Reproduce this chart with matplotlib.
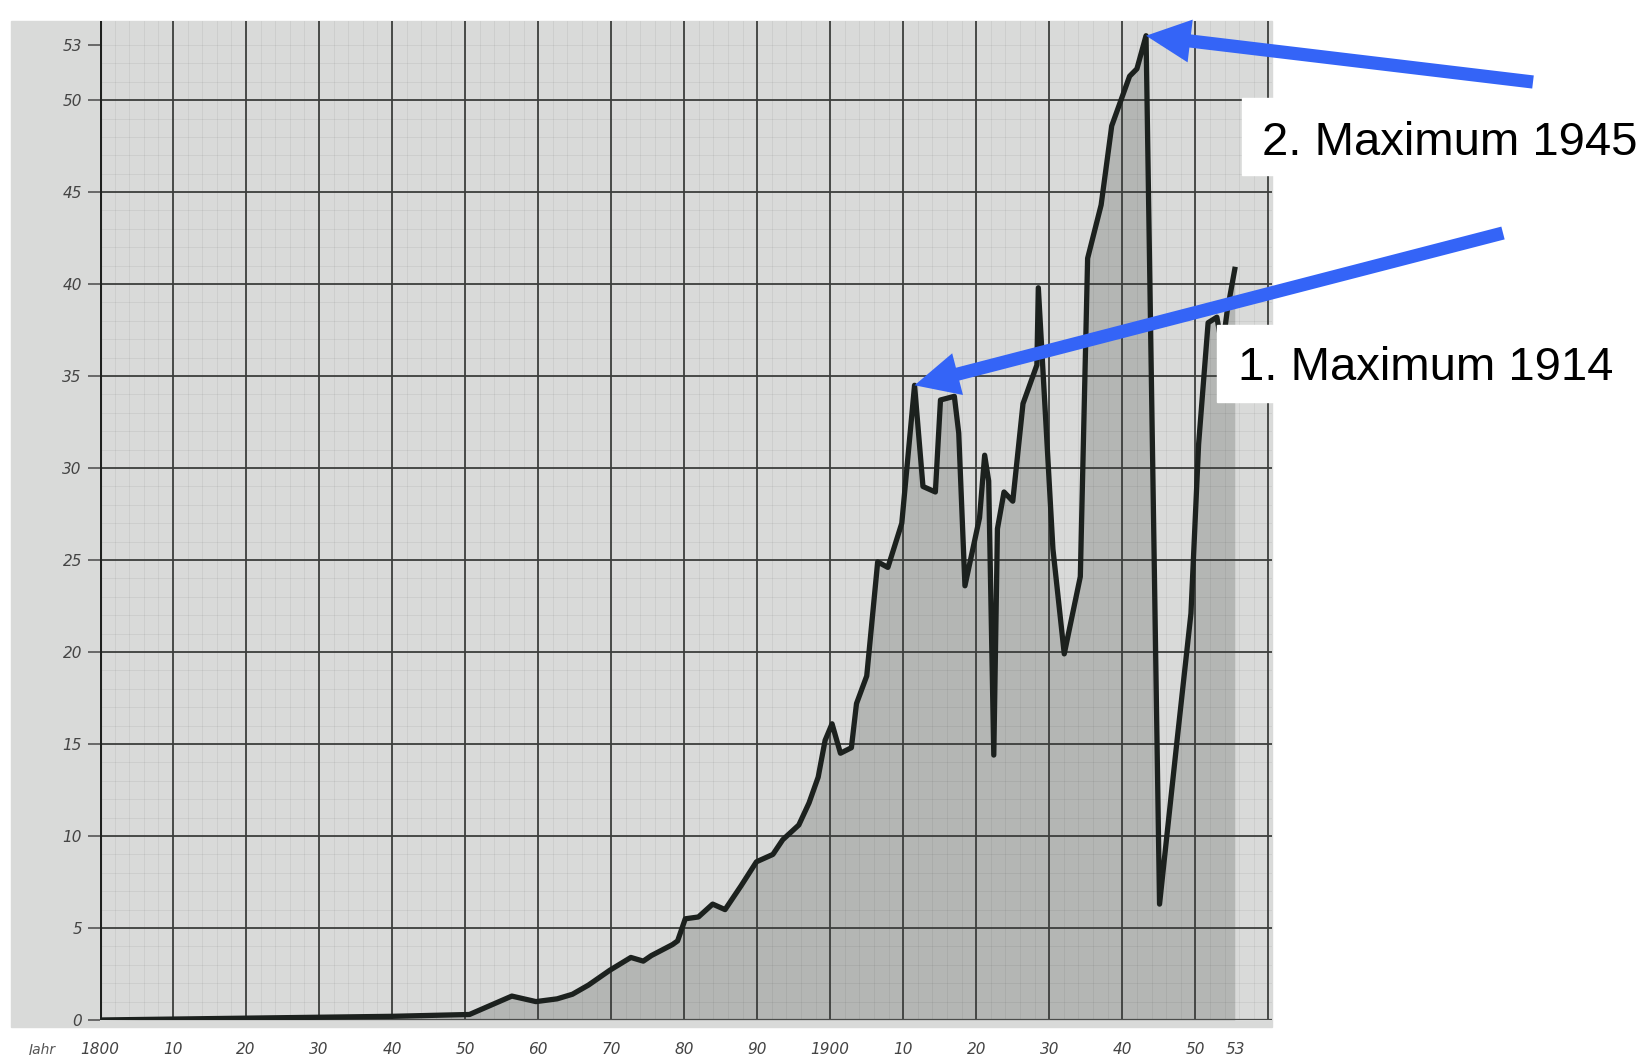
import numpy as np
import matplotlib.pyplot as plt
from matplotlib.patches import Rectangle

# values (year, level)
years = [1800, 1810, 1820, 1830, 1840, 1850.6, 1856.4, 1859.7, 1862.6, 1864.7,
         1866.9, 1869.8, 1872.7, 1874.4, 1875.5, 1878.4, 1879.1, 1880.15, 1881.95, 1883.9,
         1885.6, 1887.8, 1889.9, 1892.15, 1893.5, 1895.7, 1897.1, 1898.35, 1899.3, 1900.25,
         1901.4, 1902.9, 1903.6, 1905.0, 1906.5, 1907.9, 1909.8, 1911.55, 1912.7, 1914.4,
         1915.1, 1917.0, 1917.6, 1918.45, 1920.45, 1921.15, 1921.7, 1922.4, 1922.9, 1923.8,
         1925.0, 1926.4, 1928.3, 1928.5, 1930.5, 1932.05, 1934.25, 1935.25, 1937.1, 1938.55,
         1941.0, 1942.0, 1943.25, 1945.1, 1947.5, 1949.4, 1950.45, 1951.75, 1952.95, 1953.7,
         1954.35, 1955.4]
values = [0.0, 0.05, 0.1, 0.15, 0.2, 0.3, 1.3, 1.0, 1.15, 1.4,
          1.9, 2.7, 3.4, 3.2, 3.5, 4.1, 4.3, 5.5, 5.6, 6.3,
          6.0, 7.3, 8.6, 9.0, 9.8, 10.6, 11.8, 13.2, 15.2, 16.1,
          14.5, 14.8, 17.2, 18.7, 24.9, 24.6, 27.0, 34.5, 29.0, 28.7,
          33.7, 33.9, 31.9, 23.6, 27.3, 30.7, 29.3, 14.4, 26.7, 28.7,
          28.2, 33.5, 35.6, 39.8, 25.6, 19.9, 24.1, 41.4, 44.3, 48.6,
          51.3, 51.7, 53.5, 6.3, 15.2, 22.1, 31.3, 37.9, 38.2, 36.5,
          38.5, 40.8]

y_ticks = [0, 5, 10, 15, 20, 25, 30, 35, 40, 45, 50, 53]
x_ticks = [1800, 1810, 1820, 1830, 1840, 1850, 1860, 1870, 1880, 1890,
           1900, 1910, 1920, 1930, 1940, 1950, 1955.5]
x_labels = ['1800', '10', '20', '30', '40', '50', '60', '70', '80', '90',
            '1900', '10', '20', '30', '40', '50', '53']

W, H = 1649, 1055
fig = plt.figure(figsize=(W / 100, H / 100), dpi=100)

# grey graph paper
fig.patches.append(Rectangle((11 / W, 1 - 1027 / H), 1261 / W, 1006 / H,
                             transform=fig.transFigure, color='#d9dad9', zorder=-1))

ax = fig.add_axes([100 / W, 1 - 1020 / H, 1172 / W, 999 / H])
ax.set_facecolor('none')
ax.set_xlim(1800, 1960.5)
ax.set_ylim(0, 54.3)

ax.fill_between(years, values, 0, color='#b4b6b4', lw=0, zorder=1)

# fine paper grid
for y in range(1, 54):
    ax.axhline(y, color='black', alpha=0.05, lw=0.7, zorder=1.5)
for x in range(1802, 1960, 2):
    ax.axvline(x, color='black', alpha=0.05, lw=0.7, zorder=1.5)
# main grid
for y in range(5, 51, 5):
    ax.axhline(y, color='#3c3e3c', lw=1.3, zorder=2)
for x in range(1810, 1961, 10):
    ax.axvline(x, color='#3c3e3c', lw=1.3, zorder=2)
ax.axvline(1800, color='#1e201e', lw=2.2, zorder=2)
ax.axhline(0, color='#4a4c4a', lw=1.6, zorder=2)

ax.plot(years, values, color='#1c211e', lw=3.8, zorder=4)

for s in ax.spines.values():
    s.set_visible(False)
ax.set_yticks(y_ticks)
ax.set_yticklabels([str(v) for v in y_ticks], fontsize=11, style='italic', color='#444444')
ax.tick_params(axis='y', length=9, width=1.2, color='#555555', pad=4)
ax.set_xticks(x_ticks)
ax.set_xticklabels(x_labels, fontsize=11, style='italic', color='#444444')
ax.tick_params(axis='x', length=0, pad=16)
fig.text(42 / W, 1 - 1050 / H, 'Jahr', fontsize=10, style='italic', color='#555555',
         ha='center', va='center')

# blue arrows to the two maxima
arrow_kw = dict(arrowstyle='simple,head_length=3.2,head_width=3.1,tail_width=0.95',
                color='#3464f7', lw=0, shrinkA=0, shrinkB=0, mutation_scale=10)
ax.annotate('', xy=(1943.25, 53.5), xytext=(1533 / W, 1 - 82 / H),
            textcoords='figure fraction', arrowprops=arrow_kw, annotation_clip=False, zorder=6)
ax.annotate('', xy=(1911.55, 34.5), xytext=(1503 / W, 1 - 233 / H),
            textcoords='figure fraction', arrowprops=arrow_kw, annotation_clip=False, zorder=6)

# white label boxes
fig.patches.append(Rectangle((1242 / W, 1 - 175 / H), 407 / W, 77 / H,
                             transform=fig.transFigure, color='white', zorder=2))
fig.patches.append(Rectangle((1217 / W, 1 - 402 / H), 413 / W, 77 / H,
                             transform=fig.transFigure, color='white', zorder=2))
fig.text(1262 / W, 1 - 155 / H, '2. Maximum 1945', fontsize=34, family='Liberation Sans',
         va='baseline', zorder=3)
fig.text(1238 / W, 1 - 380 / H, '1. Maximum 1914', fontsize=34, family='Liberation Sans',
         va='baseline', zorder=3)

fig.savefig('out.png', dpi=100)
